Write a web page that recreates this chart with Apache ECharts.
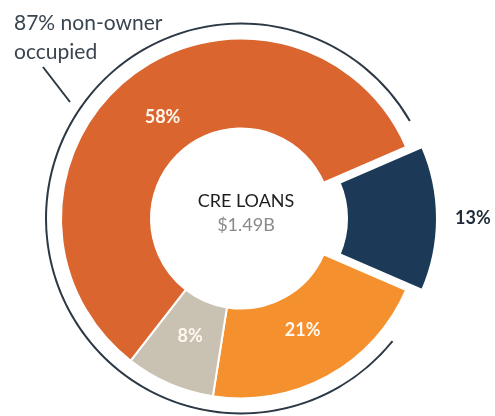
<!DOCTYPE html>
<html><head><meta charset="utf-8">
<script src="https://cdn.jsdelivr.net/npm/echarts@6.0.0/dist/echarts.min.js"></script>
<style>html,body{margin:0;padding:0;background:#fff}#c{width:495px;height:416px}</style>
</head><body><div id="c"></div>
<script>
const categories = ['Owner occupied', 'Non-owner occupied A', 'Non-owner occupied B', 'Non-owner occupied C'];
const shares = [13, 21, 8, 58];
const colors = ['#1C3A57', '#F5902E', '#C9C1B2', '#DA652F'];
const centerTitle = 'CRE LOANS';
const centerValue = '$1.49B';
const nonOwnerLabel = '87% non-owner\noccupied';

const FONT = 'Lato, "Open Sans", sans-serif';
const C = [241, 218.5];
const startAngle = shares[0] / 100 * 360 / 2;

const chart = echarts.init(document.getElementById('c'));
chart.setOption({
  animation: false,
  title: [
    { text: nonOwnerLabel, left: 9, top: 4,
      textStyle: { fontSize: 21, fontWeight: 'normal', color: '#3a4550', lineHeight: 29, fontFamily: FONT } },
    { text: centerTitle, subtext: centerValue, left: C[0], top: 187, textAlign: 'center', itemGap: 6,
      textStyle: { fontSize: 18, fontWeight: 'normal', color: '#1e1e1e', fontFamily: FONT },
      subtextStyle: { fontSize: 18, color: '#8a8a8a', fontFamily: FONT } }
  ],
  graphic: [
    { type: 'line', shape: { x1: 43, y1: 67, x2: 70, y2: 102 }, style: { stroke: '#2c3844', lineWidth: 2 } }
  ],
  series: [
    { type: 'pie', center: C, radius: [194, 196], startAngle: 30, clockwise: false, silent: true,
      label: { show: false }, labelLine: { show: false }, emphasis: { disabled: true },
      data: [ { value: 291, name: 'arc', itemStyle: { color: '#2c3844' } },
              { value: 69, name: 'gap', itemStyle: { color: 'rgba(0,0,0,0)' } } ] },
    { type: 'pie', center: C, radius: [90, 180], startAngle: startAngle, silent: true,
      selectedMode: 'single', selectedOffset: 16, avoidLabelOverlap: false,
      emphasis: { disabled: true },
      itemStyle: { borderColor: '#fff', borderWidth: 2 },
      label: { show: false }, labelLine: { show: false },
      data: shares.map((v, i) => ({
        name: categories[i], value: v, selected: i === 0,
        itemStyle: { color: colors[i] },
        label: i === 0 ? { show: true, position: 'outside', formatter: '{c}%', color: '#1d2a38',
                           fontSize: 18, fontWeight: 'bold', fontFamily: FONT } : { show: false },
        labelLine: { show: false, length: 5, length2: 8 }
      })) },
    { type: 'pie', center: C, radius: [80, 170], startAngle: startAngle, silent: true,
      emphasis: { disabled: true }, avoidLabelOverlap: false,
      itemStyle: { color: 'rgba(0,0,0,0)' }, labelLine: { show: false },
      data: shares.map((v, i) => ({
        name: categories[i], value: v,
        label: { show: i !== 0, position: 'inside', formatter: '{c}%', color: '#fff8ee',
                 fontSize: 18, fontWeight: 'bold', fontFamily: FONT }
      })) }
  ]
});
</script></body></html>
